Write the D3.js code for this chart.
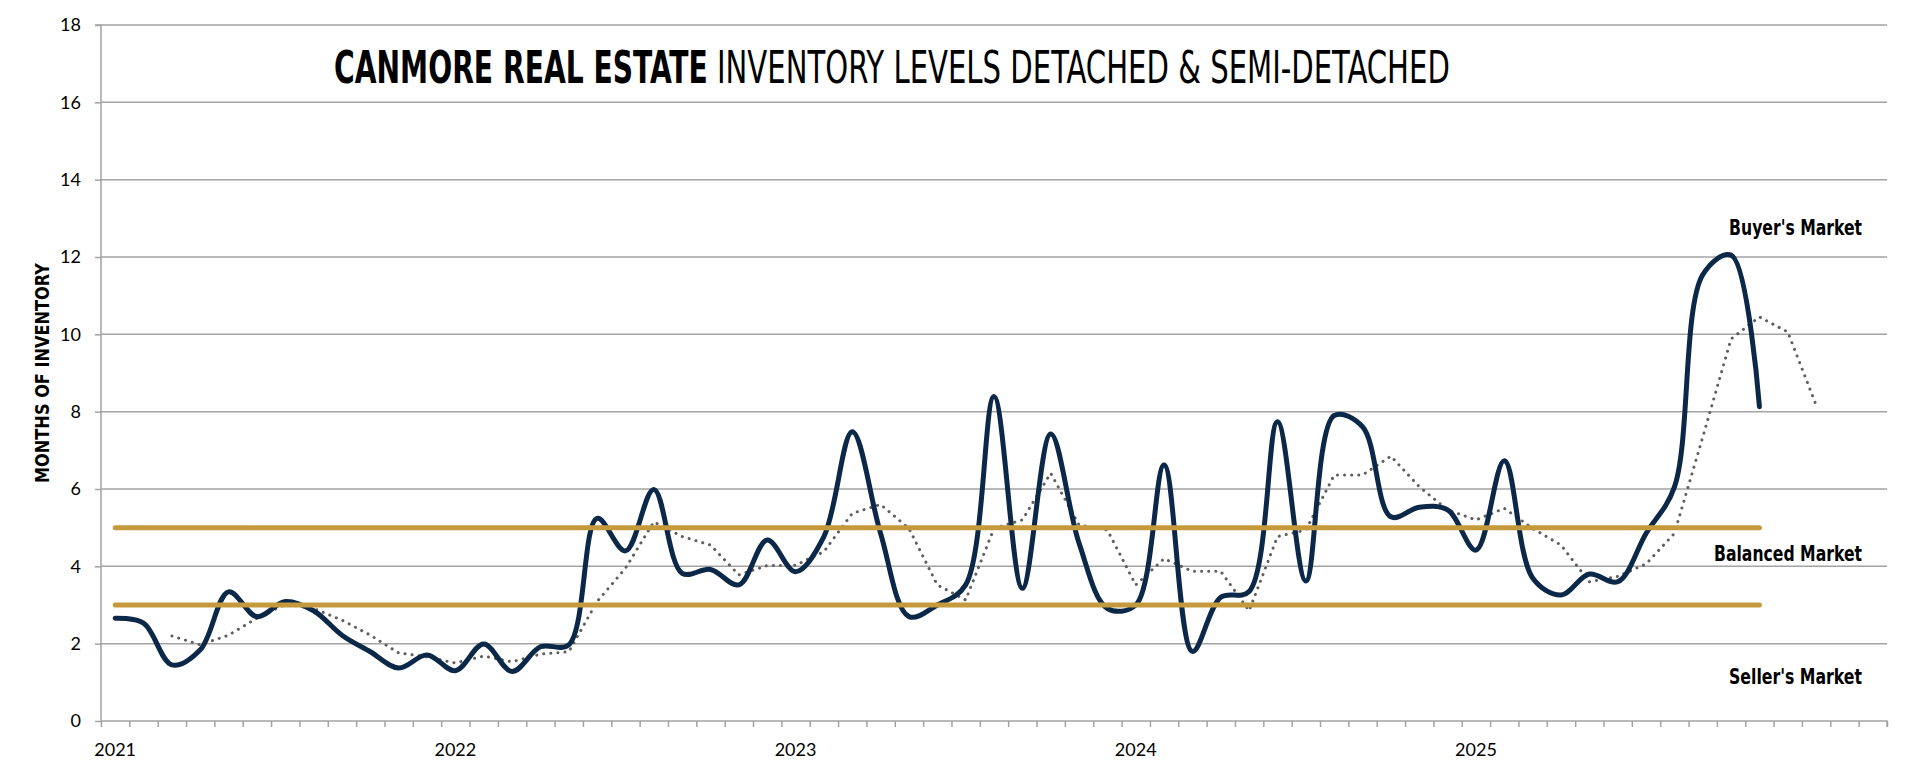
<!DOCTYPE html>
<html>
<head>
<meta charset="utf-8">
<script src="https://cdn.jsdelivr.net/npm/d3@7"></script>
<style>
  html, body { margin: 0; padding: 0; background: #fff; }
  .cond { font-family: "Liberation Sans Narrow", "DejaVu Sans Condensed", "Roboto Condensed", "Open Sans", sans-serif; font-stretch: condensed; }
  .tick text { font-family: Lato, "Open Sans", sans-serif; font-size: 18px; fill: #000; }
</style>
</head>
<body>
<svg id="chart" width="1920" height="778"></svg>
<script>
// months Jan 2021 .. Mar 2026 (category axis)
const months = d3.timeMonth.range(new Date(2021, 0, 1), new Date(2026, 3, 1));
const categories = months.map(d3.timeFormat('%Y-%m'));
const yearLabels = ['2021', '2022', '2023', '2024', '2025'];
const yTicks = [0, 2, 4, 6, 8, 10, 12, 14, 16, 18];

// months of inventory (solid) - Jan 2021 .. Nov 2025
const inventory = [
  2.66, 2.53, 1.45, 1.84, 3.34, 2.70, 3.09, 2.85, 2.22, 1.79, 1.37, 1.71,
  1.30, 1.99, 1.28, 1.92, 1.97, 5.24, 4.40, 5.99, 3.82, 3.92, 3.52, 4.68,
  3.86, 4.77, 7.48, 4.85, 2.70, 3.00, 3.52, 8.39, 3.43, 7.42, 4.60, 2.91,
  3.00, 6.62, 1.80, 3.20, 3.35, 7.74, 3.62, 7.90, 7.61, 5.28, 5.53, 5.46,
  4.42, 6.73, 3.70, 3.26, 3.80, 3.60, 4.85, 6.05, 11.54, 12.05, 8.13
];

// 3 month average (dotted) - starts Mar 2021, ends Jan 2026
const average = [
  null, null, 2.20, 1.97, 2.22, 2.66, 3.02, 2.91, 2.61, 2.22, 1.76, 1.66,
  1.50, 1.68, 1.53, 1.73, 1.79, 3.09, 3.95, 5.15, 4.77, 4.55, 3.78, 4.02,
  4.03, 4.38, 5.37, 5.60, 4.98, 3.52, 3.13, 4.98, 5.20, 6.41, 5.07, 4.94,
  3.52, 4.20, 3.87, 3.87, 2.85, 4.77, 4.94, 6.36, 6.36, 6.85, 6.06, 5.46,
  5.20, 5.50, 4.98, 4.55, 3.60, 3.74, 4.06, 4.85, 7.34, 9.88, 10.45, 10.06,
  8.17
];

// market bands
const thresholds = [5, 3];
const thresholdSpan = [0, 58];
const marketLabels = [
  { text: "Buyer's Market", value: 12.56, width: 133 },
  { text: 'Balanced Market', value: 4.13, width: 148 },
  { text: "Seller's Market", value: 0.95, width: 133 }
];

const svg = d3.select('#chart');
const plotLeft = 101, plotRight = 1887, plotTop = 25, plotBottom = 721;

const x = d3.scaleBand().domain(categories).range([plotLeft, plotRight]);
const xEdge = d3.scaleLinear().domain([0, categories.length]).range([plotLeft, plotRight]);
const y = d3.scaleLinear().domain([0, 18]).range([plotBottom, plotTop]);
const xc = i => x(categories[i]) + x.bandwidth() / 2;

// squeeze a text horizontally so it takes the given width
function squeeze(sel, width, place) {
  const w = sel.node().getComputedTextLength();
  sel.attr('transform', `${place} scale(${width / w},1)`);
}

// gridlines
svg.append('g')
  .selectAll('line')
  .data(yTicks.filter(d => d > 0))
  .enter().append('line')
  .attr('x1', plotLeft).attr('x2', plotRight)
  .attr('y1', d => y(d)).attr('y2', d => y(d))
  .attr('stroke', '#a3a3a3')
  .attr('stroke-width', 1.5);

// y axis
const yAxis = svg.append('g')
  .attr('transform', `translate(${plotLeft},0)`)
  .call(d3.axisLeft(y).tickValues(yTicks).tickSize(6).tickPadding(14));
yAxis.selectAll('path, line').attr('stroke', '#a3a3a3').attr('stroke-width', 1.5);
yAxis.select('.domain').attr('d', `M-6,${plotTop}H0V${plotBottom}`);

// x axis: month tick marks between categories
const xAxis = svg.append('g')
  .attr('transform', `translate(0,${plotBottom})`)
  .call(d3.axisBottom(xEdge).tickValues(d3.range(categories.length + 1)).tickSize(6).tickFormat(''));
xAxis.selectAll('path, line').attr('stroke', '#a3a3a3').attr('stroke-width', 1.5);
xAxis.select('.domain').attr('d', `M${plotLeft},0H${plotRight}V6`);

// year labels
const yearAxis = svg.append('g')
  .attr('transform', `translate(0,${plotBottom})`)
  .call(d3.axisBottom(x)
    .tickValues(yearLabels.map(d => d + '-01'))
    .tickSize(0)
    .tickFormat(d => d.slice(0, 4)));
yearAxis.select('.domain').remove();
yearAxis.selectAll('text').attr('y', 35).attr('dy', 0);

// axis title
const axisTitle = svg.append('text')
  .attr('class', 'cond')
  .attr('text-anchor', 'middle')
  .attr('font-size', 20)
  .attr('font-weight', 'bold')
  .text('MONTHS OF INVENTORY');
squeeze(axisTitle, 220, 'translate(49,373) rotate(-90)');

// title
const titleBold = svg.append('text')
  .attr('class', 'cond')
  .attr('font-size', 44)
  .attr('font-weight', 'bold')
  .text('CANMORE REAL ESTATE');
squeeze(titleBold, 374, 'translate(334,83)');
const titleRest = svg.append('text')
  .attr('class', 'cond')
  .attr('font-size', 44)
  .text('INVENTORY LEVELS DETACHED & SEMI-DETACHED');
squeeze(titleRest, 733, 'translate(717,83)');

// dotted average
const lineAvg = d3.line()
  .defined(d => d != null)
  .x((d, i) => xc(i))
  .y(d => y(d));
svg.append('path')
  .datum(average)
  .attr('d', lineAvg)
  .attr('fill', 'none')
  .attr('stroke', '#5f5f5f')
  .attr('stroke-width', 3)
  .attr('stroke-linecap', 'round')
  .attr('stroke-dasharray', '0.1 7');

// main inventory line
const lineMain = d3.line()
  .x((d, i) => xc(i))
  .y(d => y(d))
  .curve(d3.curveCatmullRom.alpha(0.5));
svg.append('path')
  .datum(inventory)
  .attr('d', lineMain)
  .attr('fill', 'none')
  .attr('stroke', '#0c2849')
  .attr('stroke-width', 5)
  .attr('stroke-linecap', 'round')
  .attr('stroke-linejoin', 'round');

// threshold lines
svg.append('g')
  .selectAll('line')
  .data(thresholds)
  .enter().append('line')
  .attr('x1', xc(thresholdSpan[0])).attr('x2', xc(thresholdSpan[1]))
  .attr('y1', d => y(d)).attr('y2', d => y(d))
  .attr('stroke', '#c49a3c')
  .attr('stroke-width', 5)
  .attr('stroke-linecap', 'round');

// market labels
svg.append('g')
  .selectAll('text')
  .data(marketLabels)
  .enter().append('text')
  .attr('class', 'cond')
  .attr('text-anchor', 'end')
  .attr('font-size', 22)
  .attr('font-weight', 'bold')
  .text(d => d.text)
  .each(function (d) {
    squeeze(d3.select(this), d.width, `translate(1862,${y(d.value)})`);
  });
</script>
</body>
</html>
